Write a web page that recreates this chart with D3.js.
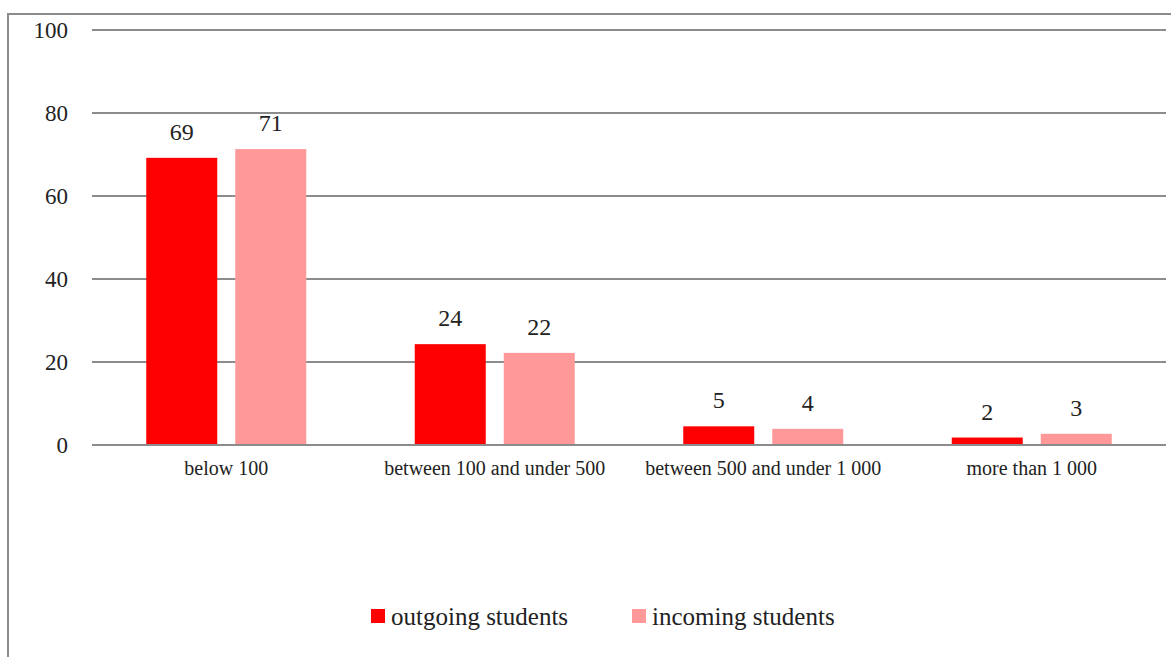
<!DOCTYPE html>
<html><head><meta charset="utf-8">
<script src="https://cdn.jsdelivr.net/npm/d3@7"></script>
<style>html,body{margin:0;padding:0;background:#fff;}svg{display:block;}</style>
</head><body>
<svg id="chart" width="1171" height="657"></svg>
<script>
const categories = ["below 100", "between 100 and under 500", "between 500 and under 1 000", "more than 1 000"];
const seriesNames = ["outgoing students", "incoming students"];
const outgoing = [69.2, 24.3, 4.5, 1.8];
const incoming = [71.3, 22.2, 3.9, 2.7];
const outgoingLabels = ["69", "24", "5", "2"];
const incomingLabels = ["71", "22", "4", "3"];
const yTicks = [0, 20, 40, 60, 80, 100];
const colors = ["#ff0000", "#ff9999"];

const svg = d3.select("#chart");
const font = "'Liberation Serif', 'DejaVu Serif', serif";
const ml = 92, mr = 1166, mt = 30, mb = 445;

// frame
svg.append("path").attr("d", "M8,657 L8,14 L1171,14")
  .attr("fill", "none").attr("stroke", "#8c8c8c").attr("stroke-width", 2);

const x = d3.scaleBand().domain(categories).range([ml, mr]).paddingInner(0).paddingOuter(0);
const y = d3.scaleLinear().domain([0, 100]).range([mb, mt]);

// grid
const yAxis = d3.axisLeft(y).tickValues(yTicks).tickSize(0).tickPadding(24);
const gy = svg.append("g").attr("transform", `translate(${ml},0)`).call(yAxis);
gy.select(".domain").remove();
gy.selectAll("text").attr("font-family", font).attr("font-size", 23).attr("fill", "#222");
svg.append("g").selectAll("line").data(yTicks).join("line")
  .attr("x1", ml).attr("x2", mr).attr("y1", d => y(d)).attr("y2", d => y(d))
  .attr("stroke", "#8c8c8c").attr("stroke-width", 2);

const barW = 71, gap = 18;
const sub = d3.scaleBand().domain([0, 1]).range([0, barW * 2 + gap]).paddingInner(gap / (barW + gap)).paddingOuter(0);
const series = [outgoing, incoming];
const labels = [outgoingLabels, incomingLabels];

series.forEach((vals, si) => {
  const g = svg.append("g");
  const off = (x.bandwidth() - (barW * 2 + gap)) / 2;
  g.selectAll("rect").data(vals).join("rect")
    .attr("x", (d, i) => x(categories[i]) + off + sub(si))
    .attr("width", sub.bandwidth())
    .attr("y", d => y(d))
    .attr("height", d => y(0) - y(d))
    .attr("fill", colors[si]);
  g.selectAll("text").data(vals).join("text")
    .attr("x", (d, i) => x(categories[i]) + off + sub(si) + sub.bandwidth() / 2)
    .attr("y", d => y(d) - 18)
    .attr("text-anchor", "middle")
    .attr("font-family", font).attr("font-size", 24).attr("fill", "#222")
    .text((d, i) => labels[si][i]);
});

// redraw baseline on top
svg.append("line").attr("x1", ml).attr("x2", mr).attr("y1", y(0)).attr("y2", y(0))
  .attr("stroke", "#8c8c8c").attr("stroke-width", 2);

// x axis labels
const xAxis = d3.axisBottom(x).tickSize(0).tickPadding(16);
const gx = svg.append("g").attr("transform", `translate(0,${mb})`).call(xAxis);
gx.select(".domain").remove();
gx.selectAll("text").attr("font-family", font).attr("font-size", 20).attr("fill", "#222");

// legend
const legendX = [371, 632];
const lg = svg.append("g");
seriesNames.forEach((n, i) => {
  lg.append("rect").attr("x", legendX[i]).attr("y", 609).attr("width", 14).attr("height", 14).attr("fill", colors[i]);
  lg.append("text").attr("x", legendX[i] + 20).attr("y", 625)
    .attr("font-family", font).attr("font-size", 25).attr("fill", "#222").text(n);
});
</script>
</body></html>
